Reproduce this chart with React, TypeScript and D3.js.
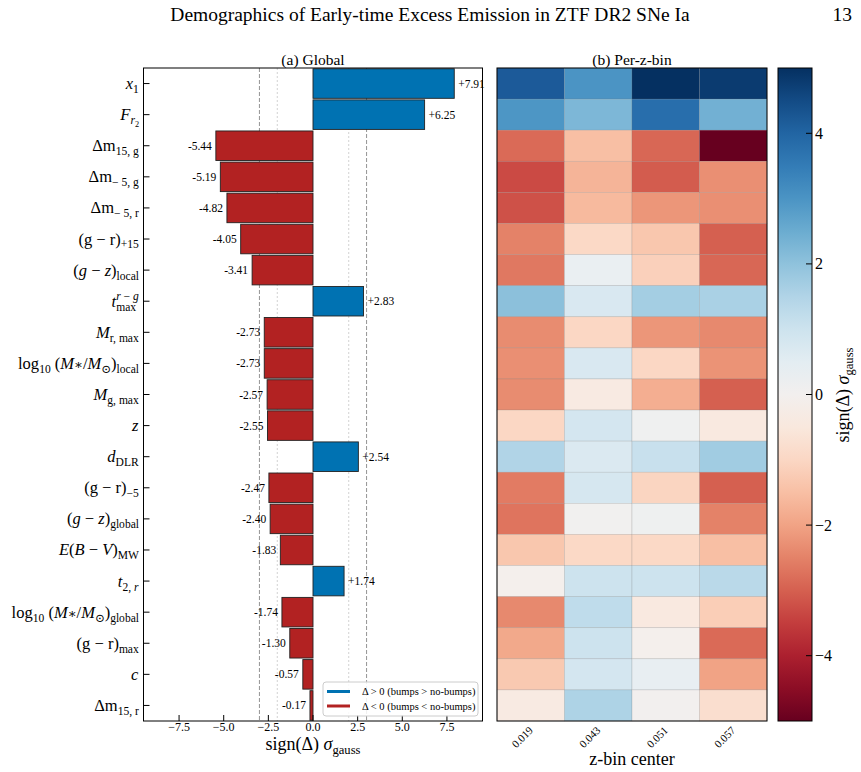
import React, { useRef, useEffect } from "react";
import * as d3 from "d3";

// [text, flags]: i = italic, b = subscript, bb = sub-subscript, p = superscript, < = stack under previous, s = small
type Seg = [string, string];

const featureLabels: Seg[][] = [
  [["x", "i"], ["1", "b"]],
  [["F", "i"], ["r", "bi"], ["2", "bb"]],
  [["Δm", ""], ["15, g", "b"]],
  [["Δm", ""], ["− 5, g", "b"]],
  [["Δm", ""], ["− 5, r", "b"]],
  [["(g − r)", ""], ["+15", "b"]],
  [["(", ""], ["g", "i"], [" − ", ""], ["z", "i"], [")", ""], ["local", "b"]],
  [["t", "i"], ["max", "b"], ["r", "pi<"], [" − ", "p"], ["g", "pi"]],
  [["M", "i"], ["r, max", "b"]],
  [["log", ""], ["10", "b"], [" (", ""], ["M", "i"], ["∗", "s"], ["/", ""], ["M", "i"], ["⊙", "b"], [")", ""], ["local", "b"]],
  [["M", "i"], ["g, max", "b"]],
  [["z", "i"]],
  [["d", "i"], ["DLR", "b"]],
  [["(g − r)", ""], ["−5", "b"]],
  [["(", ""], ["g", "i"], [" − ", ""], ["z", "i"], [")", ""], ["global", "b"]],
  [["E", "i"], ["(", ""], ["B", "i"], [" − ", ""], ["V", "i"], [")", ""], ["MW", "b"]],
  [["t", "i"], ["2, ", "b"], ["r", "bi"]],
  [["log", ""], ["10", "b"], [" (", ""], ["M", "i"], ["∗", "s"], ["/", ""], ["M", "i"], ["⊙", "b"], [")", ""], ["global", "b"]],
  [["(g − r)", ""], ["max", "b"]],
  [["c", "i"]],
  [["Δm", ""], ["15, r", "b"]],
];

const globalSigma = [
  7.91, 6.25, -5.44, -5.19, -4.82, -4.05, -3.41, 2.83, -2.73, -2.73, -2.57,
  -2.55, 2.54, -2.47, -2.4, -1.83, 1.74, -1.74, -1.3, -0.57, -0.17,
];

const zBins = ["0.019", "0.043", "0.051", "0.057"];
const sigmaZ019 = [4.2, 2.95, -2.85, -3.3, -3.2, -2.5, -2.65, 2.05, -2.35, -2.3, -2.35, -1.0, 1.5, -2.6, -2.7, -1.35, -0.1, -2.4, -1.9, -1.3, -0.4];
const sigmaZ043 = [3.0, 2.25, -1.5, -1.7, -1.6, -0.95, 0.3, 0.75, -1.0, 0.75, -0.4, 0.85, 0.7, 0.8, 0.05, -0.95, 1.0, 1.25, 1.0, 0.85, 1.55];
const sigmaZ051 = [5.0, 3.8, -2.9, -3.05, -2.2, -1.35, -1.15, 1.7, -2.2, -1.0, -1.8, 0.1, 1.1, -1.05, 0.15, -0.95, 1.0, -0.45, -0.1, 0.35, 0.0];
const sigmaZ057 = [4.8, 2.4, -5.0, -2.3, -2.3, -3.0, -2.9, 1.6, -2.4, -2.25, -3.0, -0.45, 1.75, -3.0, -2.5, -1.5, 1.35, -1.2, -2.85, -2.0, -0.8];
const heatColumns = [sigmaZ019, sigmaZ043, sigmaZ051, sigmaZ057];

const xTicks = [-7.5, -5, -2.5, 0, 2.5, 5, 7.5];
const cbarTicks = [-4, -2, 0, 2, 4];
const legendItems = ["Δ > 0 (bumps > no-bumps)", "Δ < 0 (bumps < no-bumps)"];

const BLUE = "#0072b2";
const RED = "#b22222";
const FONT = "'Liberation Serif', 'DejaVu Serif', serif";

const drawMath = (text: any, segs: Seg[], size: number) => {
  let cur = 0;
  let prevW = 0;
  segs.forEach(([s, f]) => {
    const isSub2 = f.includes("bb");
    const isSub = f.includes("b");
    const isSup = f.includes("p");
    const fs = isSub2 ? 0.5 : isSub || isSup ? 0.7 : f.includes("s") ? 0.8 : 1;
    const off = isSub2 ? 0.42 : isSub ? 0.24 : isSup ? -0.42 : 0;
    const t = text
      .append("tspan")
      .attr("font-size", size * fs)
      .attr("dy", (off - cur) * size)
      .text(s);
    if (f.includes("i")) t.attr("font-style", "italic");
    if (f.includes("<")) t.attr("dx", -prevW);
    prevW = (t.node() as SVGTSpanElement).getComputedTextLength();
    cur = off;
  });
};

const sigmaLabel = (text: any, size: number) =>
  drawMath(text, [["sign(Δ) ", ""], ["σ", "i"], ["gauss", "b"]], size);

const App = () => {
  const ref = useRef<SVGSVGElement>(null);

  useEffect(() => {
    const svg = d3.select(ref.current);
    svg.selectAll("*").remove();
    svg.style("font-family", FONT);

    const top = 68;
    const bottom = 721;
    const rows = d3.range(featureLabels.length);
    const y = d3.scaleBand<number>().domain(rows).range([top, bottom]);

    // page header
    svg.append("text").attr("x", 430).attr("y", 21).attr("text-anchor", "middle")
      .attr("font-size", 19.5).text("Demographics of Early-time Excess Emission in ZTF DR2 SNe Ia");
    svg.append("text").attr("x", 852).attr("y", 21).attr("text-anchor", "end")
      .attr("font-size", 19.5).text("13");

    // ---------- (a) Global bars ----------
    const lim = 7.91 * 1.2;
    const x = d3.scaleLinear().domain([-lim, lim]).range([143.5, 482.5]);
    const g = svg.append("g");

    [-3, 3].forEach((v) =>
      g.append("line").attr("x1", x(v)).attr("x2", x(v)).attr("y1", top).attr("y2", bottom)
        .attr("stroke", "#888").attr("stroke-width", 0.9).attr("stroke-dasharray", "4,2"));
    [-2, 2].forEach((v) =>
      g.append("line").attr("x1", x(v)).attr("x2", x(v)).attr("y1", top).attr("y2", bottom)
        .attr("stroke", "#c8c8c8").attr("stroke-width", 0.8).attr("stroke-dasharray", "2,2"));

    const bh = y.bandwidth() * 0.95;
    g.selectAll("rect.bar").data(globalSigma).enter().append("rect")
      .attr("x", (d) => x(Math.min(0, d)))
      .attr("width", (d) => Math.abs(x(d) - x(0)))
      .attr("y", (d, i) => y(i)! + (y.bandwidth() - bh) / 2)
      .attr("height", bh)
      .attr("fill", (d) => (d >= 0 ? BLUE : RED))
      .attr("stroke", "#222").attr("stroke-width", 0.9);

    g.selectAll("text.val").data(globalSigma).enter().append("text")
      .attr("x", (d) => (d >= 0 ? x(d) + 4 : x(d) - 4))
      .attr("y", (d, i) => y(i)! + y.bandwidth() / 2 + 4)
      .attr("text-anchor", (d) => (d >= 0 ? "start" : "end"))
      .attr("font-size", 11.5)
      .text((d) => (d >= 0 ? "+" + d.toFixed(2) : d.toFixed(2)));

    g.append("rect").attr("x", 143.5).attr("y", top).attr("width", 339).attr("height", bottom - top)
      .attr("fill", "none").attr("stroke", "#000").attr("stroke-width", 1);

    // y tick labels
    featureLabels.forEach((segs, i) => {
      const cy = y(i)! + y.bandwidth() / 2;
      g.append("line").attr("x1", 143.5).attr("x2", 149.5).attr("y1", cy).attr("y2", cy)
        .attr("stroke", "#000");
      const t = g.append("text").attr("x", 0).attr("y", 0).style("white-space", "pre");
      drawMath(t, segs, 16.5);
      const bb = (t.node() as SVGTextElement).getBBox();
      t.attr("transform", `translate(${139 - (bb.x + bb.width)},${cy + 5.5})`);
    });

    // x ticks
    xTicks.forEach((v) => {
      g.append("line").attr("x1", x(v)).attr("x2", x(v)).attr("y1", bottom).attr("y2", bottom - 6)
        .attr("stroke", "#000");
      g.append("text").attr("x", x(v)).attr("y", 731).attr("text-anchor", "middle")
        .attr("font-size", 12).text(d3.format(".1f")(v).replace("-", "−"));
    });
    const xl = g.append("text").attr("x", 0).attr("y", 0).style("white-space", "pre");
    sigmaLabel(xl, 18);
    const xlb = (xl.node() as SVGTextElement).getBBox();
    xl.attr("transform", `translate(${313 - xlb.width / 2 - xlb.x},750)`);

    g.append("text").attr("x", 313).attr("y", 65).attr("text-anchor", "middle")
      .attr("font-size", 15.5).text("(a) Global");

    // legend
    const lg = g.append("g").attr("transform", "translate(323,682)");
    lg.append("rect").attr("width", 155).attr("height", 34).attr("rx", 3)
      .attr("fill", "#fff").attr("fill-opacity", 0.85).attr("stroke", "#ccc");
    legendItems.forEach((label, i) => {
      const ly = 9.5 + i * 14.5;
      lg.append("line").attr("x1", 4).attr("x2", 27).attr("y1", ly).attr("y2", ly)
        .attr("stroke", i === 0 ? BLUE : RED).attr("stroke-width", 3);
      lg.append("text").attr("x", 39).attr("y", ly + 3.5).attr("font-size", 10.5)
        .style("white-space", "pre").text(label);
    });

    // ---------- (b) Per-z-bin heatmap ----------
    const hx = d3.scaleBand<string>().domain(zBins).range([497, 767]);
    const color = d3.scaleSequential(d3.interpolateRdBu).domain([-5, 5]).clamp(true);
    const h = svg.append("g");
    heatColumns.forEach((col, j) => {
      h.selectAll(null).data(col).enter().append("rect")
        .attr("x", hx(zBins[j])!)
        .attr("y", (d, i) => y(i)!)
        .attr("width", hx.bandwidth())
        .attr("height", y.bandwidth())
        .attr("fill", (d) => color(d))
        .attr("stroke", "rgba(120,120,120,0.3)").attr("stroke-width", 0.6);
    });
    h.append("rect").attr("x", 497).attr("y", top).attr("width", 270).attr("height", bottom - top)
      .attr("fill", "none").attr("stroke", "#000").attr("stroke-width", 1);
    zBins.forEach((z) => {
      const cx = hx(z)! + hx.bandwidth() / 2;
      h.append("text").attr("transform", `translate(${cx + 3},${731}) rotate(-45)`)
        .attr("text-anchor", "end").attr("font-size", 11).text(z);
    });
    h.append("text").attr("x", 632).attr("y", 765).attr("text-anchor", "middle")
      .attr("font-size", 18).text("z-bin center");
    h.append("text").attr("x", 632).attr("y", 65).attr("text-anchor", "middle")
      .attr("font-size", 15.5).text("(b) Per-z-bin");

    // colorbar
    const cy = d3.scaleLinear().domain([-5, 5]).range([bottom, top]);
    const defs = svg.append("defs");
    const grad = defs.append("linearGradient").attr("id", "cbar")
      .attr("x1", 0).attr("y1", 1).attr("x2", 0).attr("y2", 0);
    d3.range(0, 1.0001, 0.05).forEach((t) =>
      grad.append("stop").attr("offset", t).attr("stop-color", d3.interpolateRdBu(t)));
    const cb = svg.append("g");
    cb.append("rect").attr("x", 778).attr("y", top).attr("width", 34).attr("height", bottom - top)
      .attr("fill", "url(#cbar)").attr("stroke", "#000").attr("stroke-width", 1);
    cbarTicks.forEach((v) => {
      cb.append("line").attr("x1", 812).attr("x2", 806).attr("y1", cy(v)).attr("y2", cy(v))
        .attr("stroke", "#000");
      cb.append("text").attr("x", 815).attr("y", cy(v) + 5.5).attr("font-size", 16)
        .text(String(v).replace("-", "−"));
    });
    const cl = cb.append("text").attr("x", 0).attr("y", 0).style("white-space", "pre");
    sigmaLabel(cl, 18);
    const clb = (cl.node() as SVGTextElement).getBBox();
    cl.attr("transform", `translate(849,${395}) rotate(-90) translate(${-clb.width / 2 - clb.x},0)`);

    return () => {
      svg.selectAll("*").remove();
    };
  }, []);

  return (
    <svg
      ref={ref}
      width={861}
      height={772}
      style={{ position: "absolute", left: 0, top: 0, background: "#fff" }}
    />
  );
};

export default App;
